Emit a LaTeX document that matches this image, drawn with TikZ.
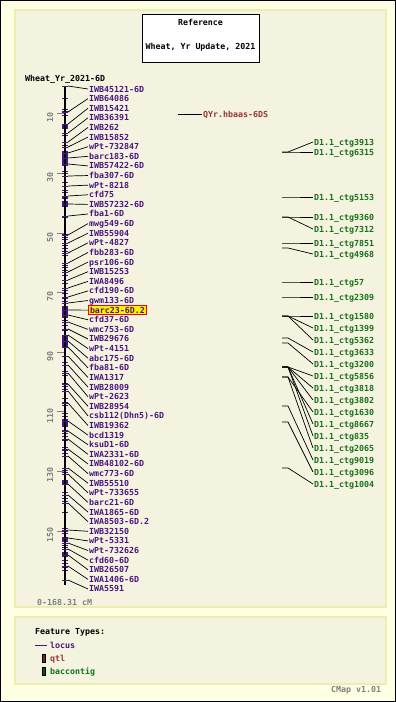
\documentclass[tikz,border=0pt]{standalone}
\usepackage{fontspec}
\setmonofont{DejaVu Sans Mono}
\usetikzlibrary{positioning}

\definecolor{mapbg}{HTML}{FFFFE4}
\definecolor{panelbg}{HTML}{F3F3E0}
\definecolor{panelrule}{HTML}{EDEDB2}
\definecolor{locus}{HTML}{4A1480}
\definecolor{qtlred}{HTML}{993333}
\definecolor{ctggreen}{HTML}{17701A}
\definecolor{scalegray}{HTML}{808080}

\tikzset{
  cmap/.style={font=\ttfamily\bfseries\fontsize{8.3}{10}\selectfont, text height=6pt, text depth=0pt},
  mlabel/.style={cmap, anchor=west, inner sep=1pt, text=locus},
  hilite/.style={fill=yellow, draw=red, line width=1pt, inner sep=1.5pt},
  glabel/.style={cmap, anchor=west, inner sep=1pt, text=ctggreen},
  mline/.style={black, line width=0.7pt},
  tick/.style={locus, line width=1pt},
  panel/.style={draw=panelrule, fill=panelbg, line width=1.5pt}
}

\begin{document}
\begin{tikzpicture}[x=1pt, y=-1pt]
\useasboundingbox (0,0) rectangle (396,702);
\draw[fill=mapbg, draw=black, line width=1pt] (0.5,0.5) rectangle (395.5,701.5);

\draw[panel] (15,10) rectangle (386,607);
\draw[panel] (15,617) rectangle (386,684);

% title
\node[draw=black, fill=white, line width=1pt, minimum width=117pt, minimum height=48pt, inner sep=0pt] (title) at (200.5,38) {};
\node[cmap] (ref) at (200.5,22) {Reference};
\node[cmap] (sub) at (200.5,46) {Wheat, Yr Update, 2021};

\node[cmap, anchor=west, inner sep=0pt] (mapname) at (25,78) {Wheat\_Yr\_2021-6D};

% scale
\foreach \v in {10,30,...,150}{
  \draw[scalegray, line width=0.8pt] (57,{84+\v*2.98}) -- (65,{84+\v*2.98});
  \node[cmap, text=scalegray, rotate=90, inner sep=0pt] at (50,{88+\v*2.98}) {\v};
}
\node[cmap, text=scalegray, anchor=west, inner sep=0pt] (range) at (37,602) {0-168.31 cM};

% chromosome
\foreach \y in {98,109,111,115,135,145,171,173,182,190,192,217,234,237,239,245,248,251,255,265,267,270,275,283,290,293,298,301,320,325,330,362,371,375,383,386,389,398,402,405,413,416,430,433,436,440,447,450,453,470,472,492,495,498,501,512,528,531,533,545,547,560,563,567,570}
  \draw[tick] (62,\y) -- (68,\y);
\foreach \a/\b in {125/129,151/166,196/199,201/207,306/318,335/348,419/427,480/485,537/542,552/557}
  \fill[locus] (62,\a) rectangle (68,\b);
\draw[black, line width=2pt] (65,86) -- (65,585);

\foreach \lab/\cy [count=\i] in {IWB45121-6D/86, IWB64086/112, IWB15421/124, IWB36391/133, IWB262/142,
  IWB15852/147, wPt-732847/153, barc183-6D/158, IWB57422-6D/164, fba307-6D/176, wPt-8218/186,
  cfd75/196, IWB57232-6D/204, fba1-6D/216, mwg549-6D/235, IWB55904/243, wPt-4827/253,
  fbb283-6D/263, psr106-6D/272, IWB15253/280, IWA8496/288, cfd190-6D/297, gwm133-6D/303,
  barc23-6D.2/310, cfd37-6D/315, wmc753-6D/322, IWB29676/329, wPt-4151/335, abc175-6D/341,
  fba81-6D/347, IWA1317/356, IWB28009/365, wPt-2623/373, IWB28954/384, {csb112(Dhn5)-6D}/391,
  IWB19362/403, bcd1319/421, ksuD1-6D/431, IWA2331-6D/439, IWB48102-6D/449, wmc773-6D/456,
  IWB55510/468, wPt-733655/474, barc21-6D/484, IWA1865-6D/495, IWA8503-6D.2/503, IWB32150/530,
  wPt-5331/538, wPt-732626/543, cfd60-6D/549, IWB26507/555, IWA1406-6D/566, IWA5591/580}{
  \coordinate (c\i) at (68,\cy);
  \draw[tick] (62,\cy) -- (c\i);
  \ifnum\i=24
    \node[mlabel, hilite] (m\i) at (88,{89+(\i-1)*9.615}) {\lab};
  \else
    \node[mlabel] (m\i) at (88,{89+(\i-1)*9.615}) {\lab};
  \fi
  \draw[mline] (c\i) -- (m\i.west);
}

% qtl
\coordinate (q0) at (178,114);
\node[cmap, anchor=west, inner sep=1pt, text=qtlred] (qyr) at (202,114) {QYr.hbaas-6DS};
\draw[mline] (q0) -- (qyr.west);

% contigs
\foreach \lab/\ly/\sy [count=\j] in {3913/142/152, 6315/152/152, 5153/197/197, 9360/217/217,
  7312/229/217, 7851/243/243, 4968/254/248, 57/282/282, 2309/297/297, 1580/316/316,
  1399/328/316, 5362/340/316, 3633/352/338, 3200/364/343, 5856/376/367, 3818/388/367,
  3802/400/367, 1630/412/377, 8667/424/367, 835/436/367, 2065/448/377, 9019/460/406,
  3096/472/422, 1004/484/468}{
  \coordinate (k\j) at (282,\sy);
  \node[glabel] (g\j) at (313,\ly) {D1.1\_ctg\lab};
  \draw[mline] (k\j) -- ++(6,0) -- (g\j.west);
}

% legend
\node[cmap, anchor=west, inner sep=0pt] (ftypes) at (35,631) {Feature Types:};
\coordinate (lg0) at (35,645);
\node[cmap, anchor=west, inner sep=3pt, text=locus] (lglocus) at (47,645) {locus};
\draw[locus, line width=1pt] (lg0) -- (lglocus.west);
\draw[fill=qtlred!75!black, draw=black, line width=0.8pt] (42.5,654) rectangle (45.5,662);
\node[cmap, anchor=west, inner sep=0pt, text=qtlred] (lgqtl) at (50,658) {qtl};
\draw[fill=ctggreen!70!black, draw=black, line width=0.8pt] (42.5,667) rectangle (45.5,675);
\node[cmap, anchor=west, inner sep=0pt, text=ctggreen] (lgctg) at (50,671) {baccontig};

\node[cmap, anchor=west, inner sep=0pt, text=scalegray] (ver) at (331,689) {CMap v1.01};
\end{tikzpicture}
\end{document}
